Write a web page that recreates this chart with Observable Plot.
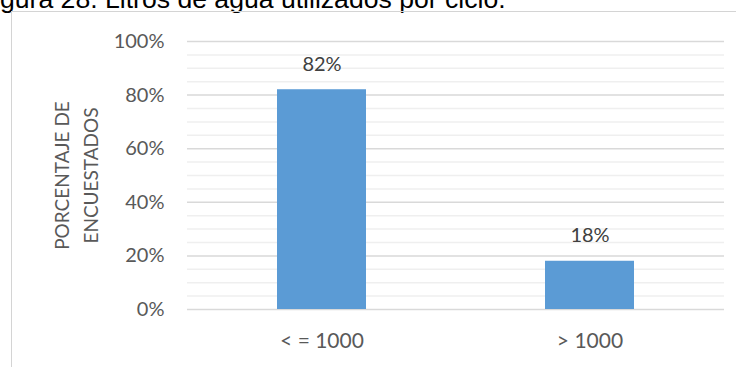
<!DOCTYPE html>
<html>
<head>
<meta charset="utf-8">
<script src="https://cdn.jsdelivr.net/npm/d3@7"></script>
<script src="https://cdn.jsdelivr.net/npm/@observablehq/plot@0.6"></script>
<style>
  html, body { margin: 0; padding: 0; background: #fff; width: 736px; height: 367px; overflow: hidden; }
  #title { position: absolute; left: 0; top: -14.5px; font-family: "Liberation Sans", Arial, sans-serif; font-size: 26.6px; line-height: 26px; color: #000; white-space: nowrap; }
  #frame { position: absolute; left: 11px; top: 11px; width: 760px; height: 400px; border: 1px solid #d4d4d4; box-sizing: border-box; }
  #chart { position: absolute; left: 0; top: 0; }
</style>
</head>
<body>
<div id="title">gura 28. Litros de agua utilizados por ciclo.</div>
<div id="frame"></div>
<div id="chart"></div>
<script>
const categories = ["< = 1000", "> 1000"];
const values = [0.82, 0.18];
const yTicks = [0, 0.2, 0.4, 0.6, 0.8, 1.0];
const yMinorTicks = [0.05, 0.10, 0.15, 0.25, 0.30, 0.35, 0.45, 0.50, 0.55, 0.65, 0.70, 0.75, 0.85, 0.90, 0.95];
const yTitle = "PORCENTAJE DE\nENCUESTADOS";

const data = categories.map((c, i) => ({cat: c, value: values[i]}));
const pct = d => Math.round(d * 100) + "%";

const chart = Plot.plot({
  width: 736,
  height: 367,
  marginLeft: 187,
  marginRight: 12,
  marginTop: 41,
  marginBottom: 58,
  style: {fontFamily: "Lato, sans-serif", fontSize: "20px", background: "transparent"},
  x: {domain: categories, paddingInner: 0.667, paddingOuter: 0.333, label: null},
  y: {domain: [0, 1], label: null},
  marks: [
    Plot.ruleY(yMinorTicks, {stroke: "#efefef", strokeWidth: 1.5}),
    Plot.ruleY(yTicks, {stroke: "#d9d9d9", strokeWidth: 1.5}),
    Plot.barY(data, {x: "cat", y: "value", fill: "#5B9BD5"}),
    Plot.text(data, {x: "cat", y: "value", text: d => pct(d.value), dy: -19, lineAnchor: "bottom", fill: "#404040", fontSize: 20}),
    Plot.axisY({ticks: yTicks, tickFormat: pct, tickSize: 0, tickPadding: 23, fontSize: 20, color: "#595959", label: null}),
    Plot.axisX({tickSize: 0, tickPadding: 24, fontSize: 21, color: "#595959", label: null}),
    Plot.text([yTitle], {frameAnchor: "left", rotate: -90, dx: -113, lineHeight: 1.5, fontSize: 19, fill: "#595959", textAnchor: "middle", lineAnchor: "middle"})
  ]
});
document.getElementById("chart").appendChild(chart);
</script>
</body>
</html>
